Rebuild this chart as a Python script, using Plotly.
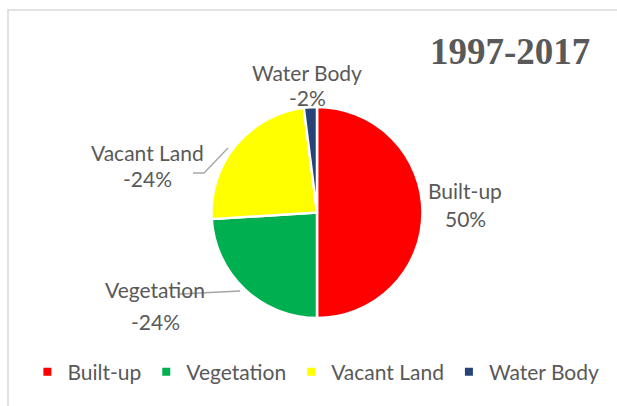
import plotly.graph_objects as go

W, H = 617, 406

categories = ["Built-up", "Vegetation", "Vacant Land", "Water Body"]
changes = [50, -24, -24, -2]
colors = ["#FF0000", "#00B050", "#FFFF00", "#264478"]
title_text = "1997-2017"

TEXT = "#595959"
FONT = "Lato"


def px(x, y):
    # pixel position -> paper coords
    return x / W, 1 - y / H


fig = go.Figure()

fig.add_trace(
    go.Pie(
        labels=categories,
        values=[abs(v) for v in changes],
        sort=False,
        direction="clockwise",
        rotation=0,
        marker=dict(colors=colors, line=dict(color="white", width=2.5)),
        textinfo="none",
        hoverinfo="label+percent",
        showlegend=False,
        domain=dict(x=[210 / W, 424 / W], y=[1 - 318 / H, 1 - 107 / H]),
    )
)

# small square legend keys (the pie's own legend swatches are too big)
for cat, col in zip(categories, colors):
    fig.add_trace(
        go.Scatter(
            x=[None], y=[None], mode="markers", name=cat,
            marker=dict(symbol="square", size=8, color=col),
        )
    )

# data labels: (x, name line y, value line y)
label_pos = {
    "Built-up": (465, 190, 218),
    "Vegetation": (155, 289, 321),
    "Vacant Land": (147, 152, 178),
    "Water Body": (307, 72, 97),
}
for cat, ch in zip(categories, changes):
    lx, ly1, ly2 = label_pos[cat]
    for txt, ly in ((cat, ly1), (f"{ch}%", ly2)):
        x, y = px(lx, ly)
        fig.add_annotation(
            x=x, y=y, xref="paper", yref="paper",
            xanchor="center", yanchor="middle",
            text=txt,
            showarrow=False,
            font=dict(family=FONT, size=21, color=TEXT),
        )

# leader lines
leaders = [
    [(193, 173), (204, 173), (228, 148)],
    [(180, 294), (240, 291)],
]
for pts in leaders:
    path = ""
    for i, (x, y) in enumerate(pts):
        xp, yp = px(x, y)
        path += ("M" if i == 0 else "L") + f"{xp},{yp} "
    fig.add_shape(type="path", path=path.strip(), xref="paper", yref="paper",
                  line=dict(color="#A6A6A6", width=1.3))

# chart frame
fig.add_shape(type="rect", xref="paper", yref="paper",
              x0=8 / W, x1=1.05, y0=-0.05, y1=1 - 10 / H,
              line=dict(color="#D9D9D9", width=1.5), fillcolor="rgba(0,0,0,0)")

tx, ty = px(510, 51)
fig.add_annotation(
    x=tx, y=ty, xref="paper", yref="paper",
    xanchor="center", yanchor="middle",
    text=f"<b>{title_text}</b>",
    showarrow=False,
    font=dict(family="Liberation Serif", size=37, color=TEXT),
)

fig.update_xaxes(visible=False)
fig.update_yaxes(visible=False)

fig.update_layout(
    width=W,
    height=H,
    margin=dict(l=0, r=0, t=0, b=0),
    paper_bgcolor="white",
    plot_bgcolor="white",
    showlegend=True,
    legend=dict(
        orientation="h",
        x=0.512,
        xanchor="center",
        y=1 - 372 / H,
        yanchor="middle",
        font=dict(family=FONT, size=21, color=TEXT),
        itemwidth=30,
        traceorder="normal",
    ),
)

fig.write_html(
    "out.html",
    config={"displayModeBar": False},
    post_script="document.body.style.margin='0';",
)
